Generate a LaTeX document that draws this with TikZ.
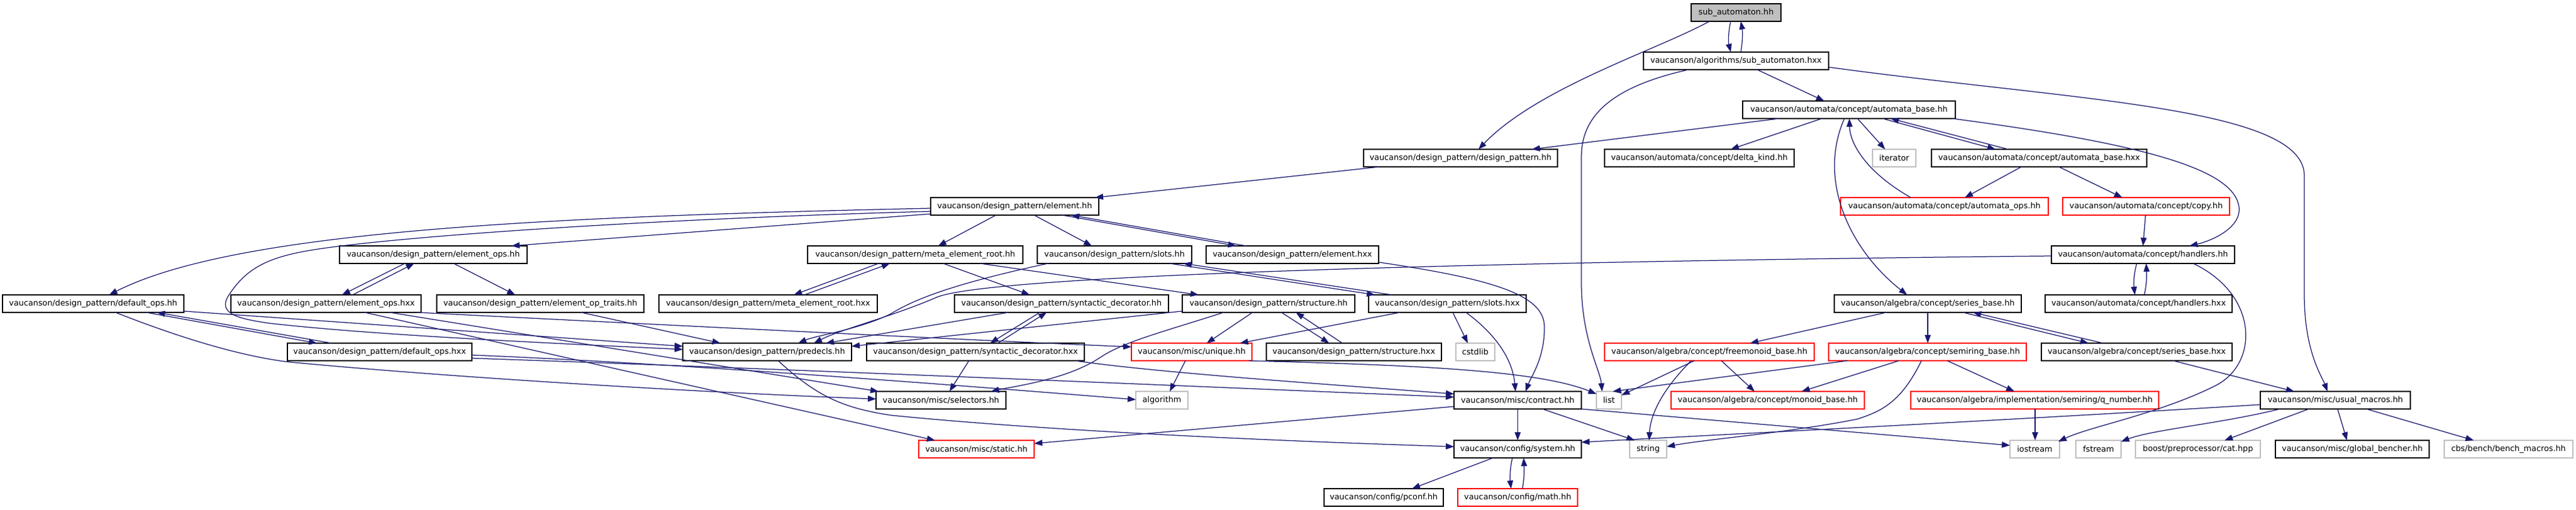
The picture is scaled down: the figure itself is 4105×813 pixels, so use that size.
\documentclass[tikz,border=0pt]{standalone}
\usepackage{fontspec}
\setmainfont{DejaVu Sans}
\usetikzlibrary{arrows.meta}
\definecolor{edgeblue}{HTML}{191970}
\definecolor{extgray}{HTML}{BFBFBF}
\definecolor{rootgray}{HTML}{BFBFBF}
\begin{document}
\begin{tikzpicture}[x=1pt,y=-1pt,
  box/.style={draw=black, line width=1.3pt, rectangle, minimum height=28pt, inner sep=0pt, font=\fontsize{12.8}{15}\selectfont, text=black},
  ext/.style={box, draw=extgray},
  redbox/.style={box, draw=red},
  root/.style={box, fill=rootgray},
  edge/.style={draw=edgeblue, line width=1.25pt, -{Triangle[length=13pt,width=9.5pt]}}]
\useasboundingbox (0,0) rectangle (4105,813);
% row 0
\node[root, minimum width=143pt] (sa) at (2766.5,20) {sub\_automaton.hh};
% row 1
\node[box, minimum width=295pt] (sahxx) at (2766.5,97) {vaucanson/algorithms/sub\_automaton.hxx};
% row 2
\node[box, minimum width=339pt] (abh) at (2946.5,175) {vaucanson/automata/concept/automata\_base.hh};
% row 3
\node[box, minimum width=309pt] (dp) at (2327.5,252) {vaucanson/design\_pattern/design\_pattern.hh};
\node[box, minimum width=302pt] (dk) at (2708,252) {vaucanson/automata/concept/delta\_kind.hh};
\node[ext, minimum width=69pt] (it) at (3018.5,252) {iterator};
\node[box, minimum width=343pt] (abhxx) at (3249.5,252) {vaucanson/automata/concept/automata\_base.hxx};
% row 4
\node[box, minimum width=268pt] (el) at (1617,329) {vaucanson/design\_pattern/element.hh};
\node[redbox, minimum width=331pt] (aops) at (3098.5,329) {vaucanson/automata/concept/automata\_ops.hh};
\node[redbox, minimum width=266pt] (copy) at (3420,329) {vaucanson/automata/concept/copy.hh};
% row 5
\node[box, minimum width=299pt] (eops) at (690.5,406) {vaucanson/design\_pattern/element\_ops.hh};
\node[box, minimum width=343pt] (mer) at (1458.5,406) {vaucanson/design\_pattern/meta\_element\_root.hh};
\node[box, minimum width=246pt] (sl) at (1776,406) {vaucanson/design\_pattern/slots.hh};
\node[box, minimum width=275pt] (elhxx) at (2059.5,406) {vaucanson/design\_pattern/element.hxx};
\node[box, minimum width=292pt] (hd) at (3415,406) {vaucanson/automata/concept/handlers.hh};
% row 6
\node[box, minimum width=289pt] (dop) at (148.5,484) {vaucanson/design\_pattern/default\_ops.hh};
\node[box, minimum width=303pt] (eopsx) at (519.5,484) {vaucanson/design\_pattern/element\_ops.hxx};
\node[box, minimum width=330pt] (eot) at (861,484) {vaucanson/design\_pattern/element\_op\_traits.hh};
\node[box, minimum width=348pt] (merx) at (1224,484) {vaucanson/design\_pattern/meta\_element\_root.hxx};
\node[box, minimum width=341pt] (sd) at (1691.5,484) {vaucanson/design\_pattern/syntactic\_decorator.hh};
\node[box, minimum width=275pt] (st) at (2021.5,484) {vaucanson/design\_pattern/structure.hh};
\node[box, minimum width=251pt] (slx) at (2306.5,484) {vaucanson/design\_pattern/slots.hxx};
\node[box, minimum width=298pt] (sb) at (3072,484) {vaucanson/algebra/concept/series\_base.hh};
\node[box, minimum width=298pt] (hdx) at (3408,484) {vaucanson/automata/concept/handlers.hxx};
% row 7
\node[box, minimum width=294pt] (dopx) at (605,561) {vaucanson/design\_pattern/default\_ops.hxx};
\node[box, minimum width=269pt] (pd) at (1222.5,561) {vaucanson/design\_pattern/predecls.hh};
\node[box, minimum width=347pt] (sdx) at (1554.5,561) {vaucanson/design\_pattern/syntactic\_decorator.hxx};
\node[redbox, minimum width=192pt] (uq) at (1899,561) {vaucanson/misc/unique.hh};
\node[box, minimum width=279pt] (stx) at (2157.5,561) {vaucanson/design\_pattern/structure.hxx};
\node[ext, minimum width=62pt] (cs) at (2351,561) {cstdlib};
\node[redbox, minimum width=334pt] (fm) at (2724,561) {vaucanson/algebra/concept/freemonoid\_base.hh};
\node[redbox, minimum width=315pt] (sr) at (3071.5,561) {vaucanson/algebra/concept/semiring\_base.hh};
\node[box, minimum width=304pt] (sbx) at (3405,561) {vaucanson/algebra/concept/series\_base.hxx};
% row 8
\node[box, minimum width=207pt] (sel) at (1499.5,638) {vaucanson/misc/selectors.hh};
\node[ext, minimum width=83pt] (alg) at (1851.5,638) {algorithm};
\node[box, minimum width=203pt] (ct) at (2418.5,638) {vaucanson/misc/contract.hh};
\node[ext, minimum width=40pt] (ls) at (2564,638) {list};
\node[redbox, minimum width=308pt] (mb) at (2817,638) {vaucanson/algebra/concept/monoid\_base.hh};
\node[redbox, minimum width=395pt] (qn) at (3242.5,638) {vaucanson/algebra/implementation/semiring/q\_number.hh};
\node[box, minimum width=239pt] (um) at (3721.5,638) {vaucanson/misc/usual\_macros.hh};
% row 9
\node[redbox, minimum width=184pt] (stc) at (1556,716) {vaucanson/misc/static.hh};
\node[box, minimum width=203pt] (sys) at (2418.5,716) {vaucanson/config/system.hh};
\node[ext, minimum width=59pt] (str) at (2626.5,716) {string};
\node[ext, minimum width=79pt] (ios) at (3242.5,716) {iostream};
\node[ext, minimum width=72pt] (fs) at (3344,716) {fstream};
\node[ext, minimum width=199pt] (cat) at (3502.5,716) {boost/preprocessor/cat.hpp};
\node[box, minimum width=245pt] (gb) at (3748.5,716) {vaucanson/misc/global\_bencher.hh};
\node[ext, minimum width=205pt] (bm) at (3997.5,716) {cbs/bench/bench\_macros.hh};
% row 10
\node[box, minimum width=190pt] (pc) at (2205,793) {vaucanson/config/pconf.hh};
\node[redbox, minimum width=191pt] (mt) at (2418.5,793) {vaucanson/config/math.hh};

% ---------------- edges ----------------
\draw[edge] ([shift={(-8.5,14)}]sa.center) .. controls (2754,50) and (2754,67) .. ([shift={(-8.5,-14)}]sahxx.center);
\draw[edge] ([shift={(7.5,-14)}]sahxx.center) .. controls (2777,67) and (2777,50) .. ([shift={(7.5,14)}]sa.center);
\draw[edge] ([shift={(-42.5,14)}]sa.center) .. controls (2640,80) and (2450,140) .. ([shift={(28.5,-14)}]dp.center);
\draw[edge] ([shift={(33.5,14)}]sahxx.center) -- ([shift={(-39.5,-14)}]abh.center);
\draw[edge] ([shift={(-75.5,14)}]sahxx.center) .. controls (2560,140) and (2520,190) .. (2520,250) -- (2520,450) .. controls (2520,540) and (2550,590) .. ([shift={(-11,-14)}]ls.center);
\draw[edge] ([shift={(147.5,10)}]sahxx.center) .. controls (3300,160) and (3672,170) .. (3672,280) -- (3672,470) .. controls (3672,560) and (3700,600) .. ([shift={(-12.5,-14)}]um.center);
\draw[edge] ([shift={(-111.5,14)}]abh.center) -- ([shift={(113.5,-14)}]dp.center);
\draw[edge] ([shift={(-43.5,14)}]abh.center) -- ([shift={(50,-14)}]dk.center);
\draw[edge] ([shift={(13.5,14)}]abh.center) -- ([shift={(-14.5,-14)}]it.center);
\draw[edge] ([shift={(53.5,14)}]abh.center) -- ([shift={(-69.5,-14)}]abhxx.center);
\draw[edge] ([shift={(-49.5,-14)}]abhxx.center) -- ([shift={(66.5,14)}]abh.center);
\draw[edge] ([shift={(-53.5,-14)}]aops.center) .. controls (2975,275) and (2948,230) .. ([shift={(0.5,14)}]abh.center);
\draw[edge] ([shift={(-7.5,14)}]abh.center) .. controls (2895,290) and (2950,400) .. ([shift={(-33,-14)}]sb.center);
\draw[edge] ([shift={(165,14)}]abh.center) .. controls (3420,230) and (3560,270) .. (3568,330) .. controls (3572,365) and (3520,385) .. ([shift={(74,-14)}]hd.center);
\draw[edge] ([shift={(-28.5,14)}]abhxx.center) -- ([shift={(32.5,-14)}]aops.center);
\draw[edge] ([shift={(31.5,14)}]abhxx.center) -- ([shift={(-38,-14)}]copy.center);
\draw[edge] ([shift={(-1,14)}]copy.center) -- ([shift={(0,-14)}]hd.center);
\draw[edge] ([shift={(-10,14)}]hd.center) .. controls (3400,437) and (3400,453) .. ([shift={(-6,-14)}]hdx.center);
\draw[edge] ([shift={(9,-14)}]hdx.center) .. controls (3421,453) and (3421,437) .. ([shift={(5,14)}]hd.center);
\draw[edge] ([shift={(-146,2)}]hd.center) .. controls (2300,418) and (1560,440) .. (1490,475) .. controls (1420,505) and (1340,525) .. ([shift={(74.5,-14)}]pd.center);
\draw[edge] ([shift={(80,14)}]hd.center) .. controls (3600,470) and (3600,580) .. (3530,615) .. controls (3440,660) and (3330,680) .. ([shift={(37.5,-12)}]ios.center);
\draw[edge] ([shift={(-129.5,14)}]dp.center) -- ([shift={(128,-14)}]el.center);
\draw[edge] ([shift={(-30,14)}]el.center) -- ([shift={(36.5,-14)}]mer.center);
\draw[edge] ([shift={(31,14)}]el.center) -- ([shift={(-36,-14)}]sl.center);
\draw[edge] ([shift={(76,14)}]el.center) -- ([shift={(-89.5,-14)}]elhxx.center);
\draw[edge] ([shift={(-73.5,-14)}]elhxx.center) -- ([shift={(90,14)}]el.center);
\draw[edge] ([shift={(-134,12)}]el.center) -- ([shift={(124.5,-14)}]eops.center);
\draw[edge] ([shift={(-134,3)}]el.center) .. controls (900,345) and (380,365) .. ([shift={(25.5,-14)}]dop.center);
\draw[edge] ([shift={(-134,8)}]el.center) .. controls (1000,350) and (600,380) .. (489,400) .. controls (420,412) and (390,432) .. (365,470) .. controls (345,500) and (380,508) .. (427,515) .. controls (600,535) and (900,548) .. ([shift={(-134.5,-4)}]pd.center);
\draw[edge] ([shift={(-45.5,14)}]eops.center) -- ([shift={(25.5,-14)}]eopsx.center);
\draw[edge] ([shift={(42.5,-14)}]eopsx.center) -- ([shift={(-30.5,14)}]eops.center);
\draw[edge] ([shift={(32.5,14)}]eops.center) -- ([shift={(-40,-14)}]eot.center);
\draw[edge] ([shift={(145.5,14)}]eopsx.center) .. controls (1000,515) and (1500,540) .. ([shift={(-96,-8)}]uq.center);
\draw[edge] ([shift={(101.5,14)}]eopsx.center) -- ([shift={(-99.5,-14)}]sel.center);
\draw[edge] ([shift={(61.5,14)}]eopsx.center) -- ([shift={(-66,-14)}]stc.center);
\draw[edge] ([shift={(65,14)}]eot.center) -- ([shift={(-74.5,-14)}]pd.center);
\draw[edge] ([shift={(84.5,14)}]dop.center) -- ([shift={(-100,-14)}]dopx.center);
\draw[edge] ([shift={(-77,-14)}]dopx.center) -- ([shift={(101.5,14)}]dop.center);
\draw[edge] ([shift={(144.5,12)}]dop.center) -- ([shift={(-134.5,-9)}]pd.center);
\draw[edge] ([shift={(35.5,14)}]dop.center) .. controls (240,520) and (360,565) .. (460,577) .. controls (700,600) and (1100,625) .. ([shift={(-103.5,-2)}]sel.center);
\draw[edge] ([shift={(147,5)}]dopx.center) .. controls (1100,580) and (1600,620) .. ([shift={(-41.5,-1)}]alg.center);
\draw[edge] ([shift={(147,10)}]dopx.center) .. controls (1300,590) and (2000,620) .. ([shift={(-101.5,-5)}]ct.center);
\draw[edge] ([shift={(-34.5,14)}]sd.center) -- ([shift={(23.5,-14)}]sdx.center);
\draw[edge] ([shift={(35.5,-14)}]sdx.center) -- ([shift={(-23.5,14)}]sd.center);
\draw[edge] ([shift={(-84.5,14)}]sd.center) -- ([shift={(93.5,-14)}]pd.center);
\draw[edge] ([shift={(-137.5,12)}]st.center) -- ([shift={(134.5,-9)}]pd.center);
\draw[edge] ([shift={(-71.5,14)}]st.center) .. controls (1850,530) and (1790,545) .. (1753,570) .. controls (1700,605) and (1620,615) .. ([shift={(79.5,-14)}]sel.center);
\draw[edge] ([shift={(-25.5,14)}]st.center) -- ([shift={(24,-14)}]uq.center);
\draw[edge] ([shift={(20.5,14)}]st.center) -- ([shift={(-39.5,-14)}]stx.center);
\draw[edge] ([shift={(-18.5,-14)}]stx.center) -- ([shift={(43.5,14)}]st.center);
\draw[edge] ([shift={(-58.5,14)}]mer.center) -- ([shift={(41,-14)}]merx.center);
\draw[edge] ([shift={(58,-14)}]merx.center) -- ([shift={(-40.5,14)}]mer.center);
\draw[edge] ([shift={(44.5,14)}]mer.center) -- ([shift={(-50.5,-14)}]sd.center);
\draw[edge] ([shift={(103.5,14)}]mer.center) -- ([shift={(-111.5,-14)}]st.center);
\draw[edge] ([shift={(-106,14)}]sl.center) .. controls (1530,450) and (1460,475) .. (1420,500) .. controls (1370,525) and (1300,535) .. ([shift={(49.5,-14)}]pd.center);
\draw[edge] ([shift={(88,14)}]sl.center) -- ([shift={(-115.5,-14)}]slx.center);
\draw[edge] ([shift={(-88.5,-14)}]slx.center) -- ([shift={(110,14)}]sl.center);
\draw[edge] ([shift={(8.5,14)}]slx.center) -- ([shift={(-12,-14)}]cs.center);
\draw[edge] ([shift={(29.5,14)}]slx.center) .. controls (2380,530) and (2410,570) .. ([shift={(-3.5,-14)}]ct.center);
\draw[edge] ([shift={(-75.5,14)}]slx.center) -- ([shift={(77,-14)}]uq.center);
\draw[edge] ([shift={(137.5,12)}]elhxx.center) .. controls (2380,445) and (2460,470) .. (2461,520) .. controls (2462,570) and (2440,600) .. ([shift={(12.5,-14)}]ct.center);
\draw[edge] ([shift={(-10.5,14)}]sdx.center) -- ([shift={(13.5,-14)}]sel.center);
\draw[edge] ([shift={(158.5,14)}]sdx.center) .. controls (1850,595) and (2150,615) .. ([shift={(-101.5,-10)}]ct.center);
\draw[edge] ([shift={(-10,14)}]uq.center) -- ([shift={(12.5,-14)}]alg.center);
\draw[edge] ([shift={(91,14)}]uq.center) .. controls (2250,582) and (2450,590) .. ([shift={(-20,-10)}]ls.center);
\draw[edge] ([shift={(17.5,14)}]pd.center) .. controls (1300,630) and (1340,650) .. (1420,662) .. controls (1700,690) and (2100,705) .. ([shift={(-101.5,-4)}]sys.center);
\draw[edge] ([shift={(0,14)}]ct.center) -- ([shift={(0,-14)}]sys.center);
\draw[edge] ([shift={(39.5,14)}]ct.center) -- ([shift={(-21.5,-14)}]str.center);
\draw[edge] ([shift={(101.5,14)}]ct.center) -- ([shift={(-39.5,-6)}]ios.center);
\draw[edge] ([shift={(-101.5,10)}]ct.center) -- ([shift={(92,-9)}]stc.center);
\draw[edge] ([shift={(-39.5,14)}]sys.center) -- ([shift={(45,-14)}]pc.center);
\draw[edge] ([shift={(-8.5,14)}]sys.center) .. controls (2406,747) and (2406,763) .. ([shift={(-10.5,-14)}]mt.center);
\draw[edge] ([shift={(7.5,-14)}]mt.center) .. controls (2429,763) and (2429,747) .. ([shift={(9.5,14)}]sys.center);
\draw[edge] ([shift={(-24,14)}]fm.center) -- ([shift={(20,-8)}]ls.center);
\draw[edge] ([shift={(-29,14)}]fm.center) .. controls (2650,620) and (2630,660) .. ([shift={(1.5,-14)}]str.center);
\draw[edge] ([shift={(19,14)}]fm.center) -- ([shift={(-21,-14)}]mb.center);
\draw[edge] ([shift={(-66,14)}]sb.center) -- ([shift={(65,-14)}]fm.center);
\draw[edge] ([shift={(0,14)}]sb.center) -- ([shift={(0.5,-14)}]sr.center);
\draw[edge] ([shift={(-127.5,14)}]sr.center) -- ([shift={(6,-14)}]ls.center);
\draw[edge] ([shift={(-45.5,14)}]sr.center) -- ([shift={(54,-14)}]mb.center);
\draw[edge] ([shift={(-9.5,14)}]sr.center) .. controls (3030,640) and (3000,655) .. (2960,668) .. controls (2850,690) and (2720,700) .. ([shift={(29.5,-4)}]str.center);
\draw[edge] ([shift={(31.5,14)}]sr.center) -- ([shift={(-32.5,-14)}]qn.center);
\draw[edge] ([shift={(0.5,14)}]qn.center) -- ([shift={(0.5,-14)}]ios.center);
\draw[edge] ([shift={(56,14)}]sb.center) -- ([shift={(-77,-14)}]sbx.center);
\draw[edge] ([shift={(-54,-14)}]sbx.center) -- ([shift={(72,14)}]sb.center);
\draw[edge] ([shift={(58,14)}]sbx.center) -- ([shift={(-65.5,-14)}]um.center);
\draw[edge] ([shift={(-119.5,7)}]um.center) .. controls (3200,670) and (2700,695) .. ([shift={(101.5,-11)}]sys.center);
\draw[edge] ([shift={(-88.5,14)}]um.center) .. controls (3540,675) and (3430,685) .. ([shift={(36,-12)}]fs.center);
\draw[edge] ([shift={(-42.5,14)}]um.center) -- ([shift={(42.5,-14)}]cat.center);
\draw[edge] ([shift={(3.5,14)}]um.center) -- ([shift={(-8.5,-14)}]gb.center);
\draw[edge] ([shift={(49.5,14)}]um.center) -- ([shift={(-55.5,-14)}]bm.center);
\end{tikzpicture}
\end{document}
